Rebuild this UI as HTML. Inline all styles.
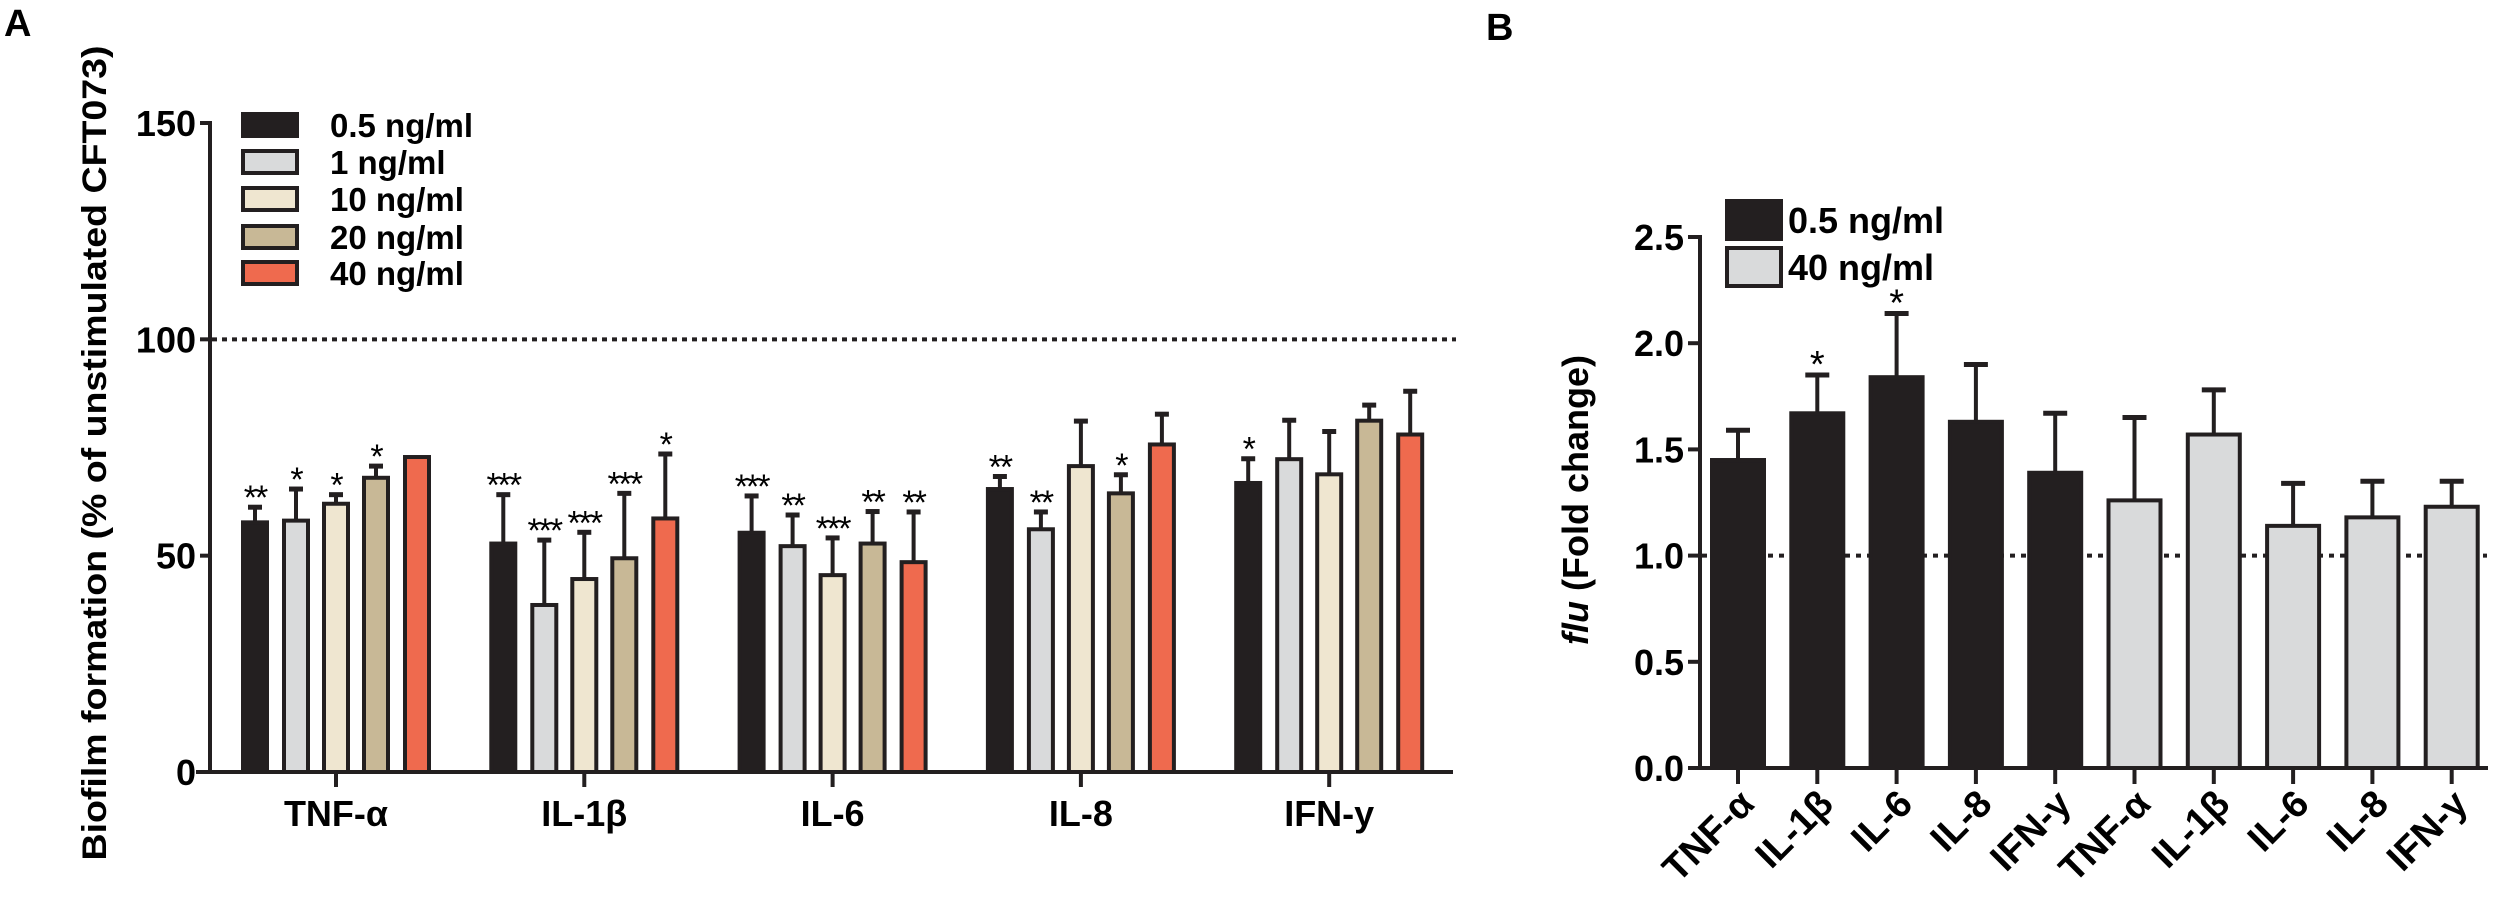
<!DOCTYPE html>
<html><head><meta charset="utf-8"><style>
html,body{margin:0;padding:0;background:#fff;}
svg{display:block;font-family:"Liberation Sans",sans-serif;font-weight:bold;}
</style></head><body>
<svg id="chart" width="2500" height="907" viewBox="0 0 2500 907" xmlns="http://www.w3.org/2000/svg">
<text x="4" y="36" font-size="38">A</text>
<text x="1486" y="40" font-size="38">B</text>
<g id="pa"></g>
<g id="pb"></g>
</svg>
<script>
// Panel A data
const catsA = ["TNF-α","IL-1β","IL-6","IL-8","IFN-y"];
const seriesA = ["0.5 ng/ml","1 ng/ml","10 ng/ml","20 ng/ml","40 ng/ml"];
const valsA05 = [57.7,52.8,55.3,65.4,66.8];
const valsA1 = [58.1,38.6,52.2,56.1,72.3];
const valsA10 = [62.0,44.6,45.5,70.7,68.8];
const valsA20 = [68.0,49.4,52.8,64.4,81.2];
const valsA40 = [72.8,58.6,48.5,75.7,78.0];
const errA05 = [61.2,64.1,63.8,68.3,72.4];
const errA1 = [65.4,53.6,59.4,60.1,81.3];
const errA10 = [64.1,55.4,54.1,81.1,78.7];
const errA20 = [70.7,64.4,60.2,68.7,84.8];
const errA40 = [72.8,73.5,60.1,82.7,88.0];
const starsA05 = ["**","***","***","**","*"];
const starsA1 = ["*","***","**","**",""];
const starsA10 = ["*","***","***","",""];
const starsA20 = ["*","***","**","*",""];
const starsA40 = ["","*","**","",""];
const ticksA = [0,50,100,150];
const refA = 100;
// Panel B data
const catsB = ["TNF-α","IL-1β","IL-6","IL-8","IFN-y","TNF-α","IL-1β","IL-6","IL-8","IFN-y"];
const groupB = [0,0,0,0,0,1,1,1,1,1];
const seriesB = ["0.5 ng/ml","40 ng/ml"];
const valsB = [1.45,1.67,1.84,1.63,1.39,1.26,1.57,1.14,1.18,1.23];
const errB = [1.59,1.85,2.14,1.90,1.67,1.65,1.78,1.34,1.35,1.35];
const starsB = ["","*","*","","","","","","",""];
const ticksB = [0,0.5,1.0,1.5,2.0,2.5];
const refB = 1.0;

const NS="http://www.w3.org/2000/svg";
function mk(parent,tag,attrs,txt){const e=document.createElementNS(NS,tag);for(const k in attrs)e.setAttribute(k,attrs[k]);if(txt!==undefined)e.textContent=txt;parent.appendChild(e);return e;}
const colA=["#231f20","#d9dadb","#efe6d0","#c8b896","#ef6a4e"];

// ---- Panel A ----
const pa=document.getElementById('pa');
const yA=v=>772-v*(772-123)/150;
const xA=i=>336+i*248.3;
const offA=[-81,-40,0,40,81];
const vA=[valsA05,valsA1,valsA10,valsA20,valsA40];
const eA=[errA05,errA1,errA10,errA20,errA40];
const sA=[starsA05,starsA1,starsA10,starsA20,starsA40];
let t=mk(pa,'text',{x:0,y:0,'font-size':34,'text-anchor':'middle',transform:`translate(106,${453}) rotate(-90)`,textLength:815,lengthAdjust:'spacingAndGlyphs'},"Biofilm formation (% of unstimulated CFT073)");


for(let s=0;s<5;s++){for(let i=0;i<5;i++){
 const cx=xA(i)+offA[s],v=vA[s][i],e=eA[s][i];
 if(e>v){let l=mk(pa,'line',{x1:cx,x2:cx,y1:yA(v),y2:yA(e),stroke:'#231f20','stroke-width':4});
 
 
 mk(pa,'line',{x1:cx-7,x2:cx+7,y1:yA(e),y2:yA(e),stroke:'#231f20','stroke-width':5});}
 let r=mk(pa,'rect',{x:cx-12,y:yA(v),width:24,height:yA(0)-yA(v),fill:colA[s],stroke:'#231f20','stroke-width':4});
 
 
 if(sA[s][i]){let st=mk(pa,'text',{x:cx,y:yA(e)+2,'font-size':34,'text-anchor':'middle','font-weight':'normal','letter-spacing':'-2'},sA[s][i]);
 
 }
}}
let d=mk(pa,'line',{x1:212,x2:1456,y1:yA(refA),y2:yA(refA),stroke:'#231f20','stroke-width':4,'stroke-dasharray':'5 5'});


mk(pa,'line',{x1:210,x2:210,y1:yA(150)-2,y2:yA(0)+2,stroke:'#231f20','stroke-width':4});
mk(pa,'line',{x1:196,x2:1453,y1:yA(0),y2:yA(0),stroke:'#231f20','stroke-width':4});
for(const tv of ticksA){mk(pa,'line',{x1:200,x2:210,y1:yA(tv),y2:yA(tv),stroke:'#231f20','stroke-width':4});
 let tl=mk(pa,'text',{x:196,y:yA(tv)+13,'font-size':36,'text-anchor':'end'},String(tv));
 
 }
for(let i=0;i<5;i++){mk(pa,'line',{x1:xA(i),x2:xA(i),y1:yA(0),y2:yA(0)+15,stroke:'#231f20','stroke-width':4});
 let tl=mk(pa,'text',{x:xA(i),y:826,'font-size':36,'text-anchor':'middle'},catsA[i]);
 
 }
const legY=[125,162,199,237,273];
for(let s=0;s<5;s++){
 let g=mk(pa,'g',{});
 
 
 mk(g,'rect',{x:243,y:legY[s]-11,width:54,height:22,fill:colA[s],stroke:'#231f20','stroke-width':4});
 mk(g,'text',{x:330,y:legY[s]+12,'font-size':33},seriesA[s]);
}

// ---- Panel B ----
const pb=document.getElementById('pb');
const yB=v=>768-v*(768-237)/2.5;
const xB=i=>1738+i*79.3;
const colB=["#231f20","#d9dadb"];
let tb=mk(pb,'text',{x:0,y:0,'font-size':36,'text-anchor':'middle',transform:`translate(1588,500) rotate(-90)`});


mk(tb,'tspan',{'font-style':'italic'},'flu');
mk(tb,'tspan',{},' (Fold change)');
let db=mk(pb,'line',{x1:1702,x2:2487,y1:yB(refB),y2:yB(refB),stroke:'#231f20','stroke-width':4,'stroke-dasharray':'5 6'});


for(let i=0;i<catsB.length;i++){
 const cx=xB(i),v=valsB[i],e=errB[i];
 let l=mk(pb,'line',{x1:cx,x2:cx,y1:yB(v),y2:yB(e),stroke:'#231f20','stroke-width':4});
 
 
 mk(pb,'line',{x1:cx-12,x2:cx+12,y1:yB(e),y2:yB(e),stroke:'#231f20','stroke-width':5});
 let r=mk(pb,'rect',{x:cx-26,y:yB(v),width:52,height:yB(0)-yB(v),fill:colB[groupB[i]],stroke:'#231f20','stroke-width':4});
 
 
 if(starsB[i]){let st=mk(pb,'text',{x:cx,y:yB(e)+2,'font-size':38,'text-anchor':'middle','font-weight':'normal'},'*');
 
 }
 mk(pb,'line',{x1:cx,x2:cx,y1:yB(0),y2:yB(0)+16,stroke:'#231f20','stroke-width':4});
 let tl=mk(pb,'text',{x:0,y:0,'font-size':38,'text-anchor':'end',transform:`translate(${cx+18},${806}) rotate(-45)`},catsB[i]);
 
 
}
mk(pb,'line',{x1:1700,x2:1700,y1:yB(2.5)-2,y2:yB(0)+2,stroke:'#231f20','stroke-width':4});
mk(pb,'line',{x1:1688,x2:2488,y1:yB(0),y2:yB(0),stroke:'#231f20','stroke-width':4});
for(const tv of ticksB){mk(pb,'line',{x1:1688,x2:1700,y1:yB(tv),y2:yB(tv),stroke:'#231f20','stroke-width':4});
 let tl=mk(pb,'text',{x:1684,y:yB(tv)+13,'font-size':36,'text-anchor':'end'},tv.toFixed(1));
 
 }
const legBY=[220,267];
for(let s=0;s<2;s++){
 let g=mk(pb,'g',{});
 
 
 mk(g,'rect',{x:1727,y:legBY[s]-19,width:54,height:38,fill:colB[s],stroke:'#231f20','stroke-width':4});
 mk(g,'text',{x:1788,y:legBY[s]+13,'font-size':36},seriesB[s]);
}
</script>
</body></html>
